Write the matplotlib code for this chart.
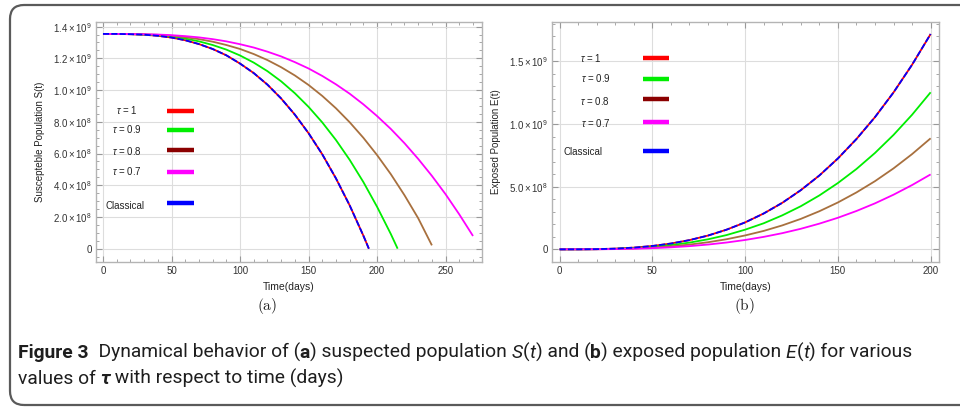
import numpy as np
import matplotlib
matplotlib.use("Agg")
import matplotlib.pyplot as plt
from matplotlib.patches import FancyBboxPatch
from matplotlib.transforms import IdentityTransform
from matplotlib.ticker import MultipleLocator

plt.rcParams['font.family'] = ['Liberation Sans', 'DejaVu Sans']
plt.rcParams['mathtext.fontset'] = 'custom'
plt.rcParams['mathtext.rm'] = 'Liberation Sans'
plt.rcParams['mathtext.it'] = 'Liberation Sans:italic'
plt.rcParams['mathtext.bf'] = 'Liberation Sans:bold'

# ---- (a) susceptible population S(t), in units of 1e9 ----
t_s1 = list(range(0, 191, 10)) + [194]
s_tau1 = [1.354, 1.354, 1.352, 1.349, 1.342, 1.331, 1.314, 1.290, 1.259, 1.219, 1.167,
          1.107, 1.034, 0.947, 0.845, 0.728, 0.595, 0.443, 0.273, 0.082, 0.0]
t_s09 = list(range(0, 211, 10)) + [215]
s_tau09 = [1.354, 1.354, 1.353, 1.350, 1.345, 1.337, 1.325, 1.307, 1.284, 1.255, 1.218,
           1.173, 1.119, 1.055, 0.980, 0.894, 0.796, 0.685, 0.560, 0.420, 0.264, 0.093, 0.0]
t_s08 = list(range(0, 231, 10)) + [240]
s_tau08 = [1.354, 1.354, 1.353, 1.351, 1.348, 1.342, 1.333, 1.321, 1.305, 1.284, 1.259,
           1.227, 1.189, 1.144, 1.092, 1.032, 0.963, 0.885, 0.797, 0.699, 0.590, 0.470,
           0.337, 0.192, 0.021]
t_s07 = list(range(0, 271, 10))
s_tau07 = [1.354, 1.354, 1.353, 1.352, 1.350, 1.346, 1.340, 1.332, 1.321, 1.307, 1.289,
           1.268, 1.242, 1.212, 1.176, 1.136, 1.089, 1.036, 0.977, 0.910, 0.836, 0.755,
           0.665, 0.566, 0.459, 0.343, 0.216, 0.080]
s_classical = s_tau1

# ---- (b) exposed population E(t), in units of 1e9 ----
t_e = list(range(0, 201, 10))
e_tau1 = [0, 0.0002, 0.0017, 0.0058, 0.0137, 0.0268, 0.0464, 0.0737, 0.110, 0.157, 0.215,
          0.286, 0.371, 0.472, 0.589, 0.725, 0.880, 1.055, 1.252, 1.473, 1.718]
e_tau09 = [0, 0.0002, 0.0013, 0.0042, 0.0100, 0.0196, 0.0338, 0.0537, 0.0802, 0.114, 0.157,
           0.208, 0.271, 0.344, 0.430, 0.529, 0.641, 0.769, 0.913, 1.074, 1.253]
e_tau08 = [0, 0.0001, 0.0009, 0.0030, 0.0071, 0.0138, 0.0239, 0.0380, 0.0567, 0.0807, 0.111,
           0.147, 0.191, 0.243, 0.304, 0.374, 0.454, 0.544, 0.646, 0.760, 0.886]
e_tau07 = [0, 0.0001, 0.0006, 0.0020, 0.0048, 0.0093, 0.0161, 0.0256, 0.0383, 0.0545, 0.0748,
           0.0995, 0.129, 0.164, 0.205, 0.252, 0.306, 0.367, 0.436, 0.513, 0.598]
e_classical = e_tau1

legend_labels = [r'$\tau$ = 1', r'$\tau$ = 0.9', r'$\tau$ = 0.8', r'$\tau$ = 0.7', 'Classical']
legend_colors = ['#ff0000', '#00ee00', '#8b0000', '#ff00ff', '#0000ff']
curve_colors = ['#ff0000', '#00ee00', '#a8703e', '#ff00ff', '#0000ff']

s_ticks = [0, 0.2, 0.4, 0.6, 0.8, 1.0, 1.2, 1.4]
s_ticklabels = ['0', r'$2.0\times10^{8}$', r'$4.0\times10^{8}$', r'$6.0\times10^{8}$',
                r'$8.0\times10^{8}$', r'$1.0\times10^{9}$', r'$1.2\times10^{9}$',
                r'$1.4\times10^{9}$']
e_ticks = [0, 0.5, 1.0, 1.5]
e_ticklabels = ['0', r'$5.0\times10^{8}$', r'$1.0\times10^{9}$', r'$1.5\times10^{9}$']

fig = plt.figure(figsize=(9.6, 4.09), dpi=100)
ax1 = fig.add_axes([0.100, 0.3594, 0.402, 0.5868])
ax2 = fig.add_axes([0.575, 0.3594, 0.4031, 0.5868])


def style(ax, xmaj, xmin, ymin):
    for sp in ax.spines.values():
        sp.set_color('#b4b4b4')
        sp.set_linewidth(1.0)
    ax.xaxis.set_major_locator(MultipleLocator(xmaj))
    ax.xaxis.set_minor_locator(MultipleLocator(xmin))
    ax.yaxis.set_minor_locator(MultipleLocator(ymin))
    ax.tick_params(which='both', direction='in', top=True, right=True,
                   color='#999999', labelsize=7, labelcolor='#333333', pad=3)
    ax.tick_params(which='major', length=4, width=0.8)
    ax.tick_params(which='minor', length=2, width=0.6)
    ax.grid(True, which='major', color='#dddddd', lw=0.8)
    ax.set_axisbelow(True)
    ax.set_xlabel('Time(days)', fontsize=7.5, color='#222222', labelpad=4)


def curves(ax, series):
    for i, (t, v) in enumerate(series[:4]):
        ax.plot(t, np.array(v) * 1e9, color=curve_colors[i], lw=1.3, solid_capstyle='butt')
    t, v = series[4]
    ax.plot(t, np.array(v) * 1e9, color=curve_colors[4], lw=1.3, dashes=(3.4, 1.2))


def legend(ax, tx, ty, sx0, sx1, sy):
    for i in range(5):
        ax.text(tx[i], ty[i], legend_labels[i], transform=ax.transAxes, fontsize=7,
                ha='center', va='center', color='#222222')
        ax.plot([sx0, sx1], [sy[i], sy[i]], transform=ax.transAxes,
                color=legend_colors[i], lw=3.2, solid_capstyle='butt')


# panel (a)
curves(ax1, [(t_s1, s_tau1), (t_s09, s_tau09), (t_s08, s_tau08), (t_s07, s_tau07),
             (t_s1, s_classical)])
style(ax1, 50, 10, 0.05e9)
ax1.set_xlim(-5.1, 276.5)
ax1.set_ylim(-0.084e9, 1.429e9)
ax1.set_yticks(np.array(s_ticks) * 1e9)
ax1.set_yticklabels(s_ticklabels)
ax1.set_ylabel('Suscepteble Population S(t)', fontsize=7, color='#222222', labelpad=6)
legend(ax1, [0.081, 0.081, 0.081, 0.081, 0.076], [0.633, 0.554, 0.463, 0.379, 0.233],
       0.184, 0.254, [0.629, 0.551, 0.467, 0.375, 0.246])

# panel (b)
curves(ax2, [(t_e, e_tau1), (t_e, e_tau09), (t_e, e_tau08), (t_e, e_tau07),
             (t_e, e_classical)])
style(ax2, 50, 10, 0.1e9)
ax2.set_xlim(-4.1, 204.5)
ax2.set_ylim(-0.101e9, 1.814e9)
ax2.set_yticks(np.array(e_ticks) * 1e9)
ax2.set_yticklabels(e_ticklabels)
ax2.set_ylabel('Exposed Population E(t)', fontsize=7, color='#222222', labelpad=6)
legend(ax2, [0.101, 0.114, 0.111, 0.114, 0.080], [0.850, 0.767, 0.671, 0.579, 0.458],
       0.235, 0.302, [0.850, 0.763, 0.679, 0.583, 0.4625])

# panel letters
fig.text(267 / 960, 1 - 306 / 409, r'$\mathrm{(a)}$', math_fontfamily='cm', fontsize=11,
         ha='center', va='center', color='#222222')
fig.text(744 / 960, 1 - 306 / 409, r'$\mathrm{(b)}$', math_fontfamily='cm', fontsize=11,
         ha='center', va='center', color='#222222')

# rounded frame around the figure
box = FancyBboxPatch((10, 4), 1000, 400, boxstyle='round,pad=0,rounding_size=14',
                     transform=IdentityTransform(), fc='none', ec='#5a5a5a', lw=1.6,
                     clip_on=False)
fig.add_artist(box)

# caption, drawn as runs of differently styled text
renderer = fig.canvas.get_renderer()
cap_kw = dict(family=['Roboto', 'DejaVu Sans'], color='#1e1e1e')


def width(s, size, **kw):
    a = fig.text(0, 0, '|' + s + '|', fontsize=size, **cap_kw, **kw)
    b = fig.text(0, 0, '||', fontsize=size, **cap_kw, **kw)
    w = a.get_window_extent(renderer).width - b.get_window_extent(renderer).width
    a.remove()
    b.remove()
    return w


line1 = [('Figure 3', dict(weight='bold')), ('  Dynamical behavior of (', {}),
         ('a', dict(weight='bold')), (') suspected population ', {}),
         ('S', dict(style='italic')), ('(', {}), ('t', dict(style='italic')),
         (') and (', {}), ('b', dict(weight='bold')), (') exposed population ', {}),
         ('E', dict(style='italic')), ('(', {}), ('t', dict(style='italic')),
         (') for various', {})]
line2 = [('values of ', {}), ('\u03c4', dict(weight='bold', style='italic')),
         (' with respect to time (days)', {})]

base = 13
total = sum(width(s, base, **kw) for s, kw in line1)
size = base * 893 / total


def draw_line(parts, x, y):
    for s, kw in parts:
        fig.text(x, y, s, fontsize=size, transform=IdentityTransform(), va='baseline',
                 **cap_kw, **kw)
        x += width(s, size, **kw)


draw_line(line1, 18, 409 - 358)
draw_line(line2, 18, 409 - 384)

fig.savefig('out.png', dpi=100, facecolor='white')
